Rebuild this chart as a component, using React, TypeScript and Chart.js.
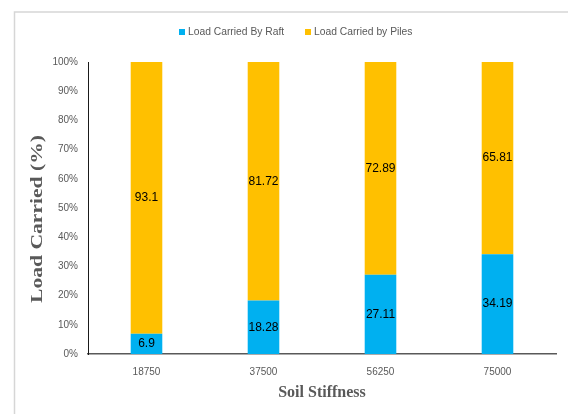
import React, { useEffect, useRef } from "react";
import { Chart, registerables } from "chart.js";

Chart.register(...registerables);

const categories = ["18750", "37500", "56250", "75000"];
const raftValues = [6.9, 18.28, 27.11, 34.19];
const pileValues = [93.1, 81.72, 72.89, 65.81];
const seriesNames = ["Load Carried By Raft", "Load Carried by Piles"];
const seriesColors = ["#00B0F0", "#FFC000"];
const yTitle = "Load Carried (%)";
const xTitle = "Soil Stiffness";

const decorPlugin = {
  id: "decor",
  beforeDraw(chart: any) {
    const ctx = chart.ctx;
    ctx.save();
    ctx.fillStyle = "#ffffff";
    ctx.fillRect(0, 0, chart.width, chart.height);
    ctx.strokeStyle = "#d6d6d6";
    ctx.lineWidth = 1.5;
    ctx.beginPath();
    ctx.moveTo(14.5, chart.height);
    ctx.lineTo(14.5, 12);
    ctx.lineTo(chart.width, 12);
    ctx.stroke();
    ctx.restore();
  },
  afterDraw(chart: any) {
    const ctx = chart.ctx;
    const area = chart.chartArea;
    ctx.save();
    // legend
    ctx.font = "10.3px 'Liberation Sans', Arial, sans-serif";
    ctx.textBaseline = "middle";
    ctx.textAlign = "left";
    const legendX = [179, 305];
    const legendY = 32;
    seriesNames.forEach((name, i) => {
      ctx.fillStyle = seriesColors[i];
      ctx.fillRect(legendX[i], legendY - 3, 6, 6);
      ctx.fillStyle = "#595959";
      ctx.fillText(name, legendX[i] + 9, legendY);
    });
    // data labels
    ctx.font = "12px 'Liberation Sans', Arial, sans-serif";
    ctx.fillStyle = "#000000";
    ctx.textAlign = "center";
    chart.data.datasets.forEach((ds: any, di: number) => {
      const meta = chart.getDatasetMeta(di);
      meta.data.forEach((el: any, i: number) => {
        const v = ds.data[i];
        const cy = (el.y + el.base) / 2;
        ctx.fillText(String(v), el.x, cy);
      });
    });
    // titles
    ctx.fillStyle = "#595959";
    ctx.font = "bold 16px 'Liberation Serif', 'Times New Roman', serif";
    ctx.textAlign = "center";
    ctx.textBaseline = "middle";
    ctx.fillText(xTitle, (area.left + area.right) / 2, 393);
    ctx.save();
    ctx.translate(38, 219);
    ctx.rotate(-Math.PI / 2);
    ctx.scale(1.27, 1);
    ctx.font = "bold 17px 'Liberation Serif', 'Times New Roman', serif";
    ctx.fillText(yTitle, 0, 0);
    ctx.restore();
    ctx.restore();
  },
};

export default function App() {
  const canvasRef = useRef<HTMLCanvasElement | null>(null);

  useEffect(() => {
    document.body.style.margin = "0";
    const canvas = canvasRef.current;
    if (!canvas) return;
    const chart = new Chart(canvas, {
      type: "bar",
      data: {
        labels: categories,
        datasets: [
          {
            label: seriesNames[0],
            data: raftValues,
            backgroundColor: seriesColors[0],
            borderWidth: 0,
            barPercentage: 0.27,
            categoryPercentage: 1,
          },
          {
            label: seriesNames[1],
            data: pileValues,
            backgroundColor: seriesColors[1],
            borderWidth: 0,
            barPercentage: 0.27,
            categoryPercentage: 1,
          },
        ],
      },
      options: {
        responsive: false,
        animation: false,
        devicePixelRatio: 1,
        layout: { padding: { left: 20, right: 12, top: 62, bottom: 0 } },
        plugins: {
          legend: { display: false },
          tooltip: { enabled: false },
          title: { display: false },
        },
        scales: {
          x: {
            stacked: true,
            grid: { display: false, drawTicks: false },
            border: { display: true, color: "#595959", width: 1.5 },
            ticks: {
              color: "#595959",
              font: { family: "'Liberation Sans', Arial, sans-serif", size: 10 },
              padding: 12,
            },
            afterFit: (s: any) => {
              s.height = 60;
            },
          },
          y: {
            stacked: true,
            min: 0,
            max: 100,
            grid: { display: false, drawTicks: false },
            border: { display: true, color: "#1a1a1a", width: 1 },
            ticks: {
              stepSize: 10,
              color: "#595959",
              font: { family: "'Liberation Sans', Arial, sans-serif", size: 10 },
              padding: 10,
              callback: (v: any) => v + "%",
            },
            afterFit: (s: any) => {
              s.width = 68;
            },
          },
        },
      },
      plugins: [decorPlugin],
    } as any);
    return () => chart.destroy();
  }, []);

  return (
    <div style={{ position: "absolute", left: 0, top: 0, width: 568, height: 414 }}>
      <canvas ref={canvasRef} width={568} height={414} />
    </div>
  );
}
